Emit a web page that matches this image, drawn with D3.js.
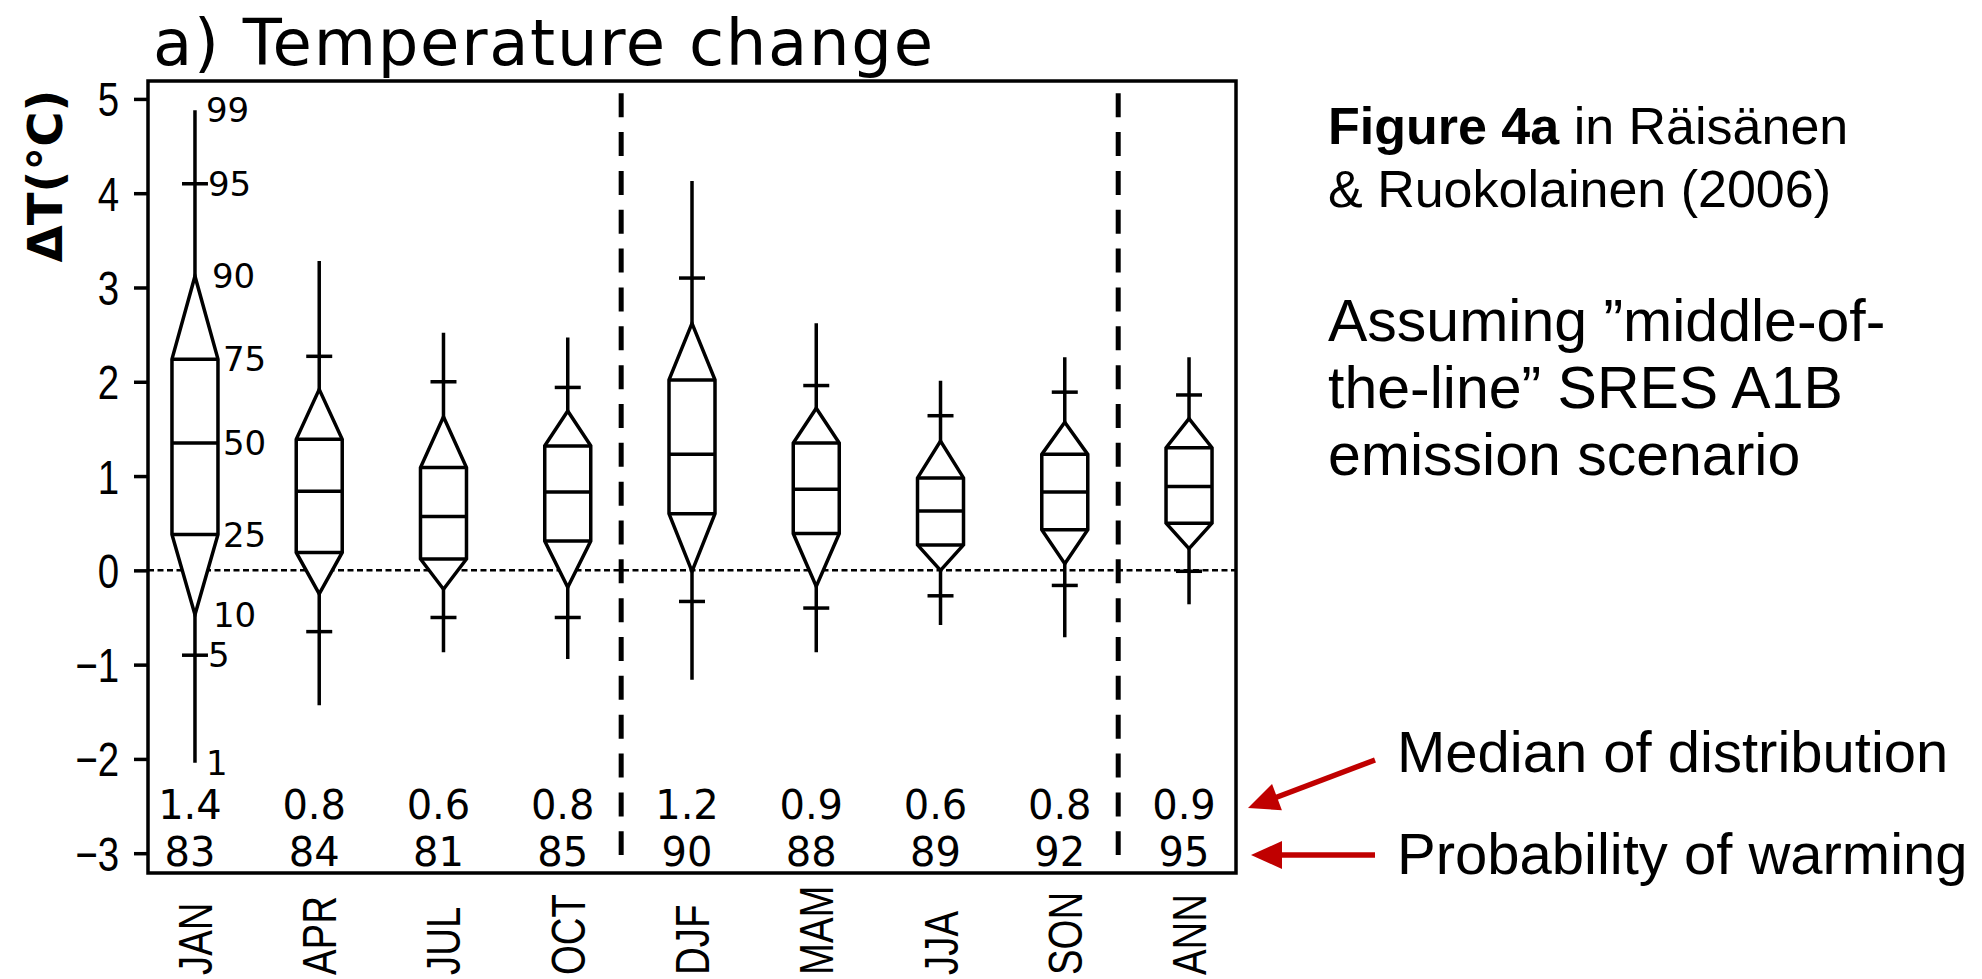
<!DOCTYPE html>
<html><head><meta charset="utf-8">
<script src="https://cdn.jsdelivr.net/npm/d3@7"></script>
<style>html,body{margin:0;padding:0;background:#fff;} svg{display:block;}</style>
</head><body>
<svg id="c" width="1982" height="979"></svg>
<script>
// ---- data ----
const categories = ["JAN","APR","JUL","OCT","DJF","MAM","JJA","SON","ANN"];
const p1  = [-2.04, -1.43, -0.87, -0.94, -1.16, -0.87, -0.58, -0.71, -0.36];
const p5  = [-0.90, -0.65, -0.50, -0.50, -0.33, -0.40, -0.27, -0.16, -0.01];
const p10 = [-0.47, -0.25, -0.20, -0.18, -0.01, -0.17, 0.00, 0.07, 0.23];
const p25 = [0.38, 0.19, 0.12, 0.31, 0.60, 0.39, 0.27, 0.43, 0.50];
const p50 = [1.35, 0.84, 0.57, 0.83, 1.23, 0.86, 0.63, 0.83, 0.89];
const p75 = [2.24, 1.39, 1.09, 1.32, 2.02, 1.35, 0.98, 1.23, 1.30];
const p90 = [3.12, 1.92, 1.63, 1.69, 2.62, 1.72, 1.37, 1.57, 1.61];
const p95 = [4.10, 2.27, 2.00, 1.94, 3.10, 1.96, 1.64, 1.89, 1.86];
const p99 = [4.88, 3.28, 2.52, 2.47, 4.13, 2.62, 2.01, 2.26, 2.26];
const medianLabels = ["1.4","0.8","0.6","0.8","1.2","0.9","0.6","0.8","0.9"];
const warmProb = [83, 84, 81, 85, 90, 88, 89, 92, 95];
const yTicks = [-3,-2,-1,0,1,2,3,4,5];
const pctNames = ["1","5","10","25","50","75","90","95","99"];
const groupBreaks = ["OCT","SON"];   // dashed separators follow these categories
const titleText = "a) Temperature change";
const yLabel = "ΔT(°C)";
const noteLines1 = [["Figure 4a", " in Räisänen"], ["", "& Ruokolainen (2006)"]];
const noteLines2 = ["Assuming \u201Dmiddle-of-", "the-line\u201D SRES A1B", "emission scenario"];
const arrowNotes = ["Median of distribution", "Probability of warming"];

const rows = categories.map((c,i)=>({cat:c, p:[p1[i],p5[i],p10[i],p25[i],p50[i],p75[i],p90[i],p95[i],p99[i]],
  med:medianLabels[i], prob:warmProb[i]}));

// ---- layout ----
const svg = d3.select("#c");
const F = {l:148, r:1236, t:81, b:873};
const y = d3.scaleLinear().domain([-3.21, 5.19]).range([F.b, F.t]);
const x = d3.scalePoint().domain(categories).range([F.l, F.r]).padding(0.378);
const step = x.step();
const HW = 23, CW = 13, LW = 3.5;
const hersh = "DejaVu Sans, sans-serif";
const arial = "Liberation Sans, Arial, sans-serif";

// zero line
svg.append("line").attr("x1",F.l).attr("x2",F.r).attr("y1",y(0)).attr("y2",y(0))
  .attr("stroke","#000").attr("stroke-width",2.5).attr("stroke-dasharray","6,3.5");

// separators
svg.selectAll("line.sep").data(groupBreaks).join("line").attr("class","sep")
  .attr("x1",d=>x(d)+0.43*step).attr("x2",d=>x(d)+0.43*step)
  .attr("y1",y(5.06)).attr("y2",y(-3.02))
  .attr("stroke","#000").attr("stroke-width",5).attr("stroke-dasharray","24,14.84");

// boxes
const g = svg.selectAll("g.box").data(rows).join("g").attr("class","box")
  .attr("transform",d=>`translate(${x(d.cat)},0)`);
g.append("line").attr("x1",0).attr("x2",0).attr("y1",d=>y(d.p[0])).attr("y2",d=>y(d.p[8]))
  .attr("stroke","#000").attr("stroke-width",LW);
[1,7].forEach(k=>g.append("line").attr("x1",-CW).attr("x2",CW)
  .attr("y1",d=>y(d.p[k])).attr("y2",d=>y(d.p[k])).attr("stroke","#000").attr("stroke-width",LW));
g.append("path").attr("d",d=>{
  const pts=[[0,y(d.p[2])],[HW,y(d.p[3])],[HW,y(d.p[5])],[0,y(d.p[6])],[-HW,y(d.p[5])],[-HW,y(d.p[3])]];
  return "M"+pts.map(p=>p.join(",")).join("L")+"Z";})
  .attr("fill","#fff").attr("stroke","#000").attr("stroke-width",LW).attr("stroke-linejoin","miter");
[3,4,5].forEach(k=>g.append("line").attr("x1",-HW).attr("x2",HW)
  .attr("y1",d=>y(d.p[k])).attr("y2",d=>y(d.p[k])).attr("stroke","#000").attr("stroke-width",LW));

// percentile labels on first box
const off = [11,13,18,28,28,28,17,13,11];
const first = rows[0];
svg.selectAll("text.pct").data(pctNames).join("text").attr("class","pct")
  .attr("x",(d,i)=>x(first.cat)+off[i]).attr("y",(d,i)=>y(first.p[i])).attr("dy","0.36em")
  .attr("font-family",hersh).attr("font-size",34).text(d=>d);

// median & probability rows
svg.selectAll("text.med").data(rows).join("text").attr("class","med")
  .attr("x",d=>x(d.cat)-5).attr("y",819).attr("text-anchor","middle")
  .attr("font-family",hersh).attr("font-size",40).text(d=>d.med);
svg.selectAll("text.prob").data(rows).join("text").attr("class","prob")
  .attr("x",d=>x(d.cat)-5).attr("y",865.5).attr("text-anchor","middle")
  .attr("font-family",hersh).attr("font-size",40).text(d=>d.prob);

// y axis
const ax = svg.append("g").attr("transform",`translate(${F.l},0)`)
  .call(d3.axisLeft(y).tickValues(yTicks).tickSize(14).tickPadding(15).tickFormat(d3.format("d")));
ax.select(".domain").remove();
ax.selectAll(".tick line").attr("stroke","#000").attr("stroke-width",LW);
ax.selectAll(".tick text").attr("x",null).attr("dy",null).attr("dominant-baseline",null)
  .attr("transform","translate(-29,17) scale(0.8,1)")
  .attr("font-family","Liberation Sans, Arial, sans-serif").attr("font-size",48).attr("fill","#000");

// category labels (rotated)
svg.selectAll("text.cat").data(categories).join("text").attr("class","cat")
  .attr("transform",d=>`translate(${x(d)+17},975) rotate(-90) scale(0.8,1)`)
  .attr("font-family",arial).attr("font-size",48).text(d=>d);

// frame
svg.append("rect").attr("x",F.l).attr("y",F.t).attr("width",F.r-F.l).attr("height",F.b-F.t)
  .attr("fill","none").attr("stroke","#000").attr("stroke-width",3.5);

// title
svg.append("text").attr("x",153).attr("y",65).attr("font-family",hersh).attr("font-size",64)
  .attr("textLength",780).attr("lengthAdjust","spacing").text(titleText);

// y label
svg.append("text").attr("transform","translate(62,176) rotate(-90)").attr("text-anchor","middle")
  .attr("font-family",hersh).attr("font-weight","bold").attr("font-size",48).text(yLabel);

// notes
const n1 = svg.selectAll("text.n1").data(noteLines1).join("text").attr("class","n1")
  .attr("x",1328).attr("y",(d,i)=>144+i*63).attr("font-family",arial).attr("font-size",52);
n1.append("tspan").attr("font-weight","bold").text(d=>d[0]);
n1.append("tspan").text(d=>d[1]);
svg.selectAll("text.n2").data(noteLines2).join("text").attr("class","n2")
  .attr("x",1328).attr("y",(d,i)=>341+i*67).attr("font-family",arial).attr("font-size",59).text(d=>d);
svg.selectAll("text.n3").data(arrowNotes).join("text").attr("class","n3")
  .attr("x",1397).attr("y",(d,i)=>[772,874][i]).attr("font-family",arial).attr("font-size",58).text(d=>d);

// red arrows
const arrows = [{from:[1375,760], to:[1248,808]}, {from:[1375,855], to:[1251,855]}];
const red = "#C00000";
arrows.forEach(a=>{
  const dx=a.to[0]-a.from[0], dy=a.to[1]-a.from[1], L=Math.hypot(dx,dy);
  const ux=dx/L, uy=dy/L, nx=-uy, ny=ux, hl=31, hw=14;
  const bx=a.to[0]-hl*ux, by=a.to[1]-hl*uy;
  svg.append("line").attr("x1",a.from[0]).attr("y1",a.from[1]).attr("x2",bx+4*ux).attr("y2",by+4*uy)
    .attr("stroke",red).attr("stroke-width",5.5);
  svg.append("path").attr("d",`M${a.to[0]},${a.to[1]}L${bx+hw*nx},${by+hw*ny}L${bx-hw*nx},${by-hw*ny}Z`)
    .attr("fill",red);
});
</script>
</body></html>
